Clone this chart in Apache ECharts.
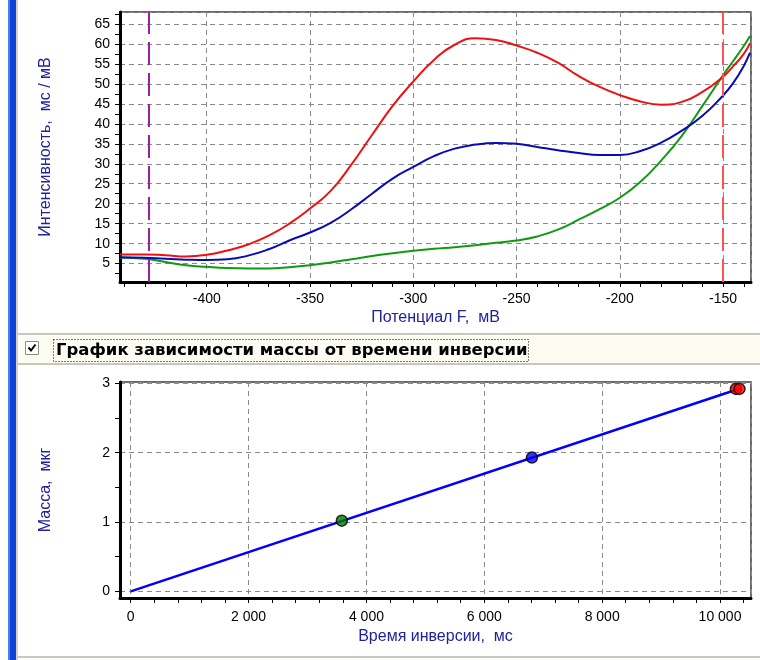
<!DOCTYPE html>
<html style="height: 100%">
	<head>
		<meta charset="utf-8">
	</head>
	<body style="height: 100%; margin: 0; background: #ffffff">
		<div id="container" style="width: 760px; height: 660px"></div>

		<script type="text/javascript" src="https://cdn.jsdelivr.net/npm/echarts@6/dist/echarts.min.js"></script>
		<script type="text/javascript">
			// Вольтамперограмма: потенциал, мВ
			const potential = [-442, -430, -420, -410, -400, -390, -380, -370, -360, -350, -340, -330, -320, -310, -300,
				-290, -280, -270, -260, -250, -240, -230, -220, -210, -200, -190, -180, -170, -160, -150, -145, -140, -137];
			const redCurve = [7.3, 7.3, 7.1, 6.8, 7.2, 8.3, 9.8, 12.0, 15.0, 18.8, 23.2, 29.8, 37.2, 44.5, 50.6,
				56.0, 59.8, 61.4, 61.0, 59.6, 57.8, 55.3, 52.0, 49.3, 47.2, 45.6, 44.8, 45.5, 48.0, 51.8, 54.5, 57.5, 60.2];
			const blueCurve = [6.6, 6.5, 6.2, 6.0, 5.9, 6.1, 7.0, 8.6, 10.8, 12.8, 15.2, 18.6, 22.5, 26.3, 29.2,
				31.9, 33.8, 34.8, 35.2, 35.0, 34.2, 33.4, 32.7, 32.2, 32.2, 33.2, 35.3, 38.3, 42.0, 47.1, 50.3, 54.5, 57.8];
			const greenCurve = [6.5, 6.2, 5.4, 4.6, 4.2, 3.9, 3.8, 3.8, 4.1, 4.6, 5.3, 6.1, 6.9, 7.6, 8.2,
				8.7, 9.1, 9.6, 10.2, 10.8, 11.8, 13.5, 16.0, 18.6, 21.5, 25.5, 30.8, 37.0, 44.5, 52.2, 55.8, 59.5, 62.0];
			const markerPurple = -428;
			const markerRed = -150;

			// График массы от времени инверсии
			const invTime = [3582, 6808, 10270, 10330];
			const invMass = [1.02, 1.93, 2.92, 2.92];
			const invColors = ['#007a00', '#0000ff', '#ff0000', '#ff0000'];
			const lineTime = [0, 10300];
			const lineMass = [0, 2.915];

			function range(a, b, step) {
				let out = [];
				for (let v = a; v <= b + 1e-9; v += step) out.push(Math.round(v * 100) / 100);
				return out;
			}
			function thousands(v) {
				return String(v).replace(/\B(?=(\d{3})+(?!\d))/g, ' ');
			}

			var dom = document.getElementById("container");
			var myChart = echarts.init(dom);

			const nameColor = '#22229c';
			const fontFamily = 'Liberation Sans, Arial, sans-serif';
			const gridLine = { show: true, lineStyle: { color: '#8a8a8a', type: [5, 4], width: 1 } };
			const thickLine = { show: true, onZero: false, lineStyle: { color: '#000', width: 3 } };
			const label = { color: '#000', fontSize: 14, fontFamily: fontFamily, showMinLabel: false, showMaxLabel: false };
			const nameStyle = { color: nameColor, fontSize: 16, fontFamily: fontFamily };
			const noLine = { show: false, onZero: false };

			var option = {
				animation: false,
				backgroundColor: '#ffffff',
				grid: [
					{ left: 120, top: 12, width: 631, height: 270, show: true, borderColor: '#3a3a3a', borderWidth: 1.5 },
					{ left: 120, top: 382, width: 631, height: 216, show: true, borderColor: '#3a3a3a', borderWidth: 1.5 }
				],
				xAxis: [
					{
						gridIndex: 0, type: 'value', min: -442, max: -136.5, minInterval: 50, maxInterval: 50,
						name: 'Потенциал F,  мВ', nameLocation: 'middle', nameGap: 28, nameTextStyle: nameStyle,
						axisLine: thickLine, axisTick: { show: false },
						axisLabel: Object.assign({ margin: 10 }, label), splitLine: gridLine
					},
					{
						gridIndex: 0, type: 'value', min: -442, max: -136.5, position: 'bottom',
						axisLine: noLine, axisLabel: { show: false }, splitLine: { show: false },
						axisTick: { show: true, length: 5, customValues: range(-440, -140, 10), lineStyle: { color: '#000' } }
					},
					{
						gridIndex: 1, type: 'value', min: -182, max: 10526, minInterval: 2000, maxInterval: 2000,
						name: 'Время инверсии,  мс', nameLocation: 'middle', nameGap: 31, nameTextStyle: nameStyle,
						axisLine: thickLine, axisTick: { show: false },
						axisLabel: Object.assign({ margin: 12, formatter: thousands }, label), splitLine: gridLine
					},
					{
						gridIndex: 1, type: 'value', min: -182, max: 10526, position: 'bottom',
						axisLine: noLine, axisLabel: { show: false }, splitLine: { show: false },
						axisTick: { show: true, length: 5, customValues: range(0, 10400, 400), lineStyle: { color: '#000' } }
					}
				],
				yAxis: [
					{
						gridIndex: 0, type: 'value', min: 0.4, max: 68, minInterval: 5, maxInterval: 5,
						name: 'Интенсивность,  мс / мВ', nameLocation: 'middle', nameGap: 66, nameTextStyle: nameStyle,
						axisLine: thickLine, axisTick: { show: false },
						axisLabel: Object.assign({ margin: 10 }, label), splitLine: gridLine
					},
					{
						gridIndex: 0, type: 'value', min: 0.4, max: 68, position: 'left',
						axisLine: noLine, axisLabel: { show: false }, splitLine: { show: false },
						axisTick: { show: true, length: 5, customValues: range(2.5, 67.5, 2.5), lineStyle: { color: '#000' } }
					},
					{
						gridIndex: 1, type: 'value', min: -0.095, max: 3.02, minInterval: 1, maxInterval: 1,
						name: 'Масса,  мкг', nameLocation: 'middle', nameGap: 66, nameTextStyle: nameStyle,
						axisLine: thickLine, axisTick: { show: false },
						axisLabel: Object.assign({ margin: 10 }, label), splitLine: gridLine
					},
					{
						gridIndex: 1, type: 'value', min: -0.095, max: 3.02, position: 'left',
						axisLine: noLine, axisLabel: { show: false }, splitLine: { show: false },
						axisTick: { show: true, length: 5, customValues: range(0, 3, 0.5), lineStyle: { color: '#000' } }
					}
				],
				series: [
					{
						type: 'line', xAxisIndex: 0, yAxisIndex: 0, showSymbol: false, smooth: 0.5,
						data: potential.map((p, i) => [p, greenCurve[i]]),
						lineStyle: { color: '#109a10', width: 2 }
					},
					{
						type: 'line', xAxisIndex: 0, yAxisIndex: 0, showSymbol: false, smooth: 0.5,
						data: potential.map((p, i) => [p, blueCurve[i]]),
						lineStyle: { color: '#0a0ab8', width: 2 }
					},
					{
						type: 'line', xAxisIndex: 0, yAxisIndex: 0, showSymbol: false, smooth: 0.5,
						data: potential.map((p, i) => [p, redCurve[i]]),
						lineStyle: { color: '#f01010', width: 2 },
						markLine: {
							silent: true, symbol: 'none', label: { show: false }, animation: false,
							data: [
								{ xAxis: markerPurple, lineStyle: { color: '#9c1fa0', width: 2, type: [23, 8] } },
								{ xAxis: markerRed, lineStyle: { color: '#ff5252', width: 2, type: [23, 8] } }
							]
						}
					},
					{
						type: 'line', xAxisIndex: 2, yAxisIndex: 2, showSymbol: false,
						data: lineTime.map((t, i) => [t, lineMass[i]]),
						lineStyle: { color: '#0000ff', width: 2.5 }
					},
					{
						type: 'scatter', xAxisIndex: 2, yAxisIndex: 2, symbolSize: 11, z: 5,
						data: invTime.map((t, i) => ({ value: [t, invMass[i]], itemStyle: { color: invColors[i] } })),
						itemStyle: { borderColor: '#000', borderWidth: 1.5 }
					}
				],
				graphic: [
					// рамка окна
					{ type: 'rect', shape: { x: 8, y: 0, width: 8, height: 660 }, style: { fill: '#1042d8' } },
					{ type: 'rect', shape: { x: 8, y: 0, width: 2, height: 660 }, style: { fill: '#4f7cf0' } },
					{ type: 'rect', shape: { x: 16, y: 0, width: 2, height: 660 }, style: { fill: '#d4d0c8' } },
					{ type: 'rect', shape: { x: 18, y: 656, width: 742, height: 2 }, style: { fill: '#c8c8c0' } },
					// панель с флажком
					{ type: 'rect', shape: { x: 18, y: 333, width: 742, height: 32 }, style: { fill: '#fcfcf3' } },
					{ type: 'rect', shape: { x: 18, y: 333, width: 742, height: 2 }, style: { fill: '#c9c7bc' } },
					{ type: 'rect', shape: { x: 18, y: 335, width: 742, height: 1 }, style: { fill: '#ffffff' } },
					{ type: 'rect', shape: { x: 18, y: 363, width: 742, height: 2 }, style: { fill: '#c9c7bc' } },
					{ type: 'rect', shape: { x: 25.5, y: 341.5, width: 13, height: 13 }, style: { fill: '#ffffff', stroke: '#8f8f88', lineWidth: 1 } },
					{ type: 'polyline', shape: { points: [[28.5, 347.5], [31, 350.5], [35.5, 344.5]] }, style: { stroke: '#000', lineWidth: 2, fill: null } },
					{ type: 'rect', shape: { x: 53.5, y: 339.5, width: 475, height: 22 }, style: { fill: null, stroke: '#000', lineWidth: 1, lineDash: [1, 2] } },
					{
						type: 'text', x: 56, y: 351,
						style: {
							text: 'График зависимости массы от времени инверсии', fill: '#000',
							font: 'bold 16.5px "DejaVu Sans", Verdana, sans-serif', verticalAlign: 'middle'
						}
					}
				]
			};

			if (option && typeof option === 'object') {
				myChart.setOption(option);
			}
		</script>
	</body>
</html>
